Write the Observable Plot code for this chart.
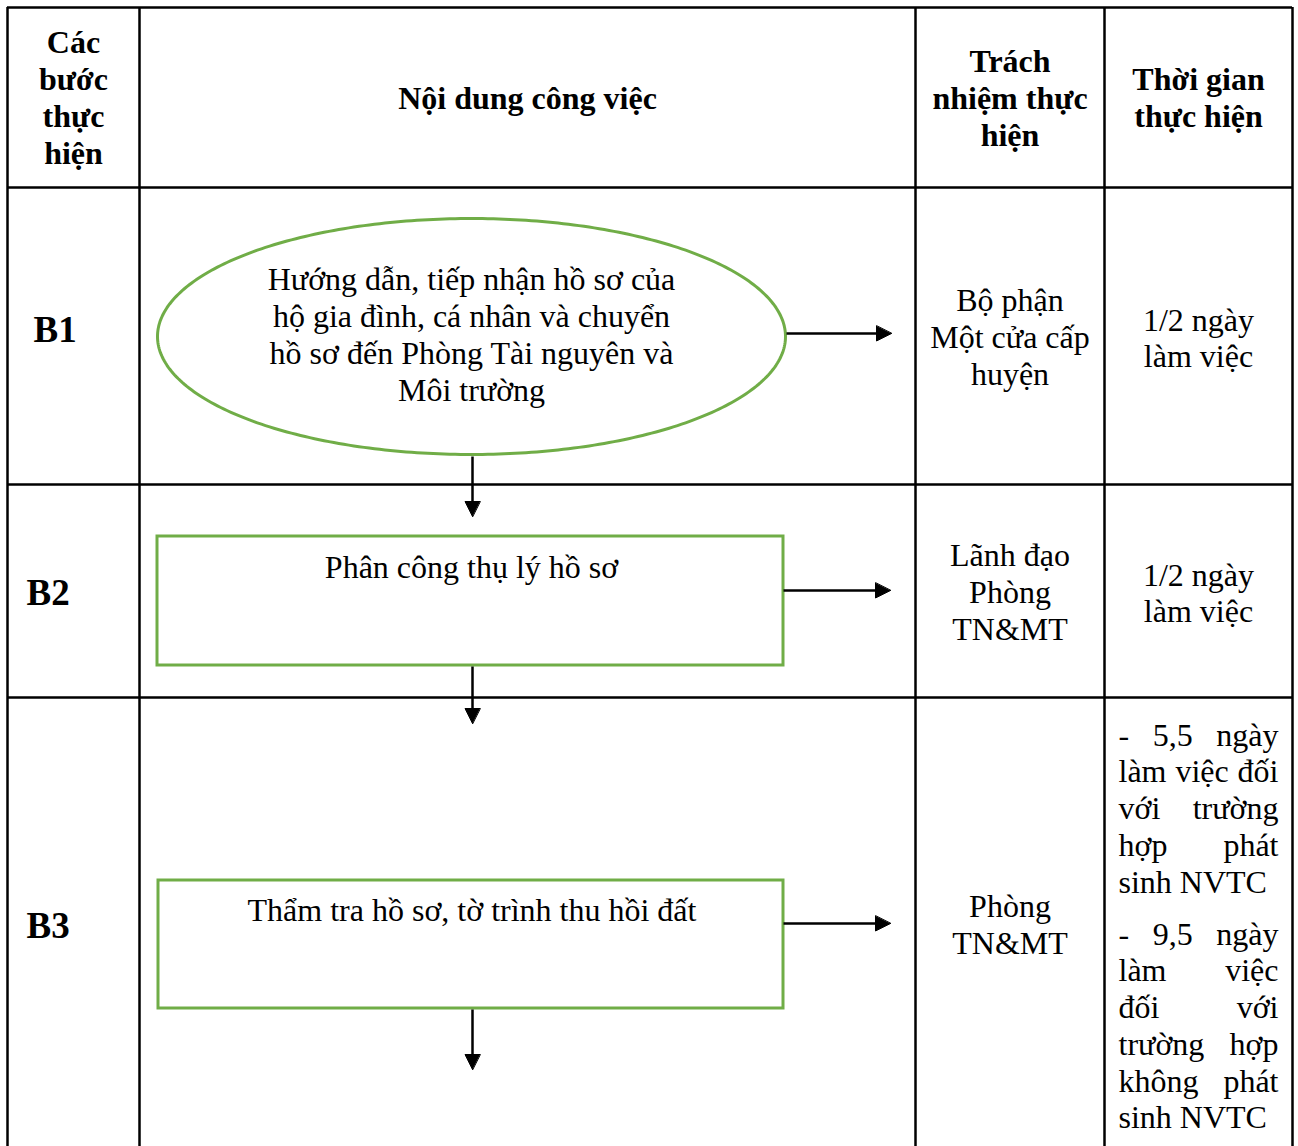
<!DOCTYPE html>
<html>
<head>
<meta charset="utf-8">
<script src="https://cdn.jsdelivr.net/npm/d3@7"></script>
<script src="https://cdn.jsdelivr.net/npm/@observablehq/plot@0.6"></script>
<style>
  html, body { margin: 0; padding: 0; background: #fff; }
  #chart svg { display: block; }
</style>
</head>
<body>
<div id="chart"></div>
<script>
// ---------- content ----------
const headers = [
  ["Các", "bước", "thực", "hiện"],
  ["Nội dung công việc"],
  ["Trách", "nhiệm thực", "hiện"],
  ["Thời gian", "thực hiện"]
];
const steps = ["B1", "B2", "B3"];
const tasks = [
  ["Hướng dẫn, tiếp nhận hồ sơ của", "hộ gia đình, cá nhân và chuyển", "hồ sơ đến Phòng Tài nguyên và", "Môi trường"],
  ["Phân công thụ lý hồ sơ"],
  ["Thẩm tra hồ sơ, tờ trình thu hồi đất"]
];
const responsible = [
  ["Bộ phận", "Một cửa cấp", "huyện"],
  ["Lãnh đạo", "Phòng", "TN&MT"],
  ["Phòng", "TN&MT"]
];
const durations = [
  ["1/2 ngày", "làm việc"],
  ["1/2 ngày", "làm việc"]
];
const durationParagraphs = [
  ["- 5,5 ngày", "làm việc đối", "với trường", "hợp phát", "sinh NVTC"],
  ["- 9,5 ngày", "làm việc", "đối với", "trường hợp", "không phát", "sinh NVTC"]
];

// ---------- layout ----------
const W = 1298, H = 1146;
const colEdges = [7, 139, 915, 1104, 1292];
const rowEdges = [7, 187, 484, 697, 1160];
const headerY = 98;
const lineH = 37;
const stepLabelPos = [[33, 330], [26, 593], [26, 926]];
const respY = [337, 592, 925];
const durY = [338, 593];
const ellipse = {cx: 471, cy: 336, rx: 314, ry: 118};
const rects = [null, {x1: 157, x2: 783, y1: 536, y2: 665}, {x1: 158, x2: 783, y1: 880, y2: 1008}];
const taskTextY = [335, 567, 910];
const arrows = [
  {x1: 472, y1: 456, x2: 472, y2: 516},
  {x1: 472, y1: 666, x2: 472, y2: 723},
  {x1: 472, y1: 1009, x2: 472, y2: 1069},
  {x1: 786, y1: 333, x2: 891, y2: 333},
  {x1: 783, y1: 590, x2: 890, y2: 590},
  {x1: 783, y1: 923, x2: 890, y2: 923}
];
const parStartY = [735, 934];
const parLineH = 36.7;
const parLeft = 1118, parRight = 1278;

const GREEN = "#70AD47";
const FONT = "'Liberation Serif', 'Times New Roman', serif";
const FS = 32;

// ---------- helpers ----------
function stack(lines, cx, cy, lh) {
  const n = lines.length;
  return lines.map((t, i) => ({x: cx, y: cy + (i - (n - 1) / 2) * lh, text: t}));
}
const canvas = document.createElement("canvas");
const ctx = canvas.getContext("2d");
ctx.font = `${FS}px 'Liberation Serif'`;
function justify(lines, y0, lh) {
  const out = [];
  lines.forEach((line, i) => {
    const y = y0 + i * lh;
    const words = line.split(" ");
    const last = i === lines.length - 1;
    if (last || words.length < 2) {
      out.push({x: parLeft, y, text: line});
      return;
    }
    const widths = words.map(w => ctx.measureText(w).width);
    const gap = (parRight - parLeft - d3.sum(widths)) / (words.length - 1);
    let x = parLeft;
    words.forEach((w, k) => { out.push({x, y, text: w}); x += widths[k] + gap; });
  });
  return out;
}

// grid
const vLines = colEdges.map(x => ({x, y1: rowEdges[0], y2: rowEdges[rowEdges.length - 1]}));
const hLines = rowEdges.slice(0, -1).map(y => ({y, x1: colEdges[0], x2: colEdges[colEdges.length - 1]}));

const headerTexts = headers.flatMap((lines, c) =>
  stack(lines, (colEdges[c] + colEdges[c + 1]) / 2, headerY, lineH));
const taskTexts = tasks.flatMap((lines, r) => {
  const cx = r === 0 ? ellipse.cx : (rects[r].x1 + rects[r].x2) / 2 + 1;
  return stack(lines, cx, taskTextY[r], lineH);
});
const respTexts = responsible.flatMap((lines, r) => stack(lines, (colEdges[2] + colEdges[3]) / 2, respY[r], lineH));
const durTexts = durations.flatMap((lines, r) => stack(lines, (colEdges[3] + colEdges[4]) / 2, durY[r], 36));
const parTexts = durationParagraphs.flatMap((lines, p) => justify(lines, parStartY[p], parLineH));
const stepTexts = steps.map((s, i) => ({x: stepLabelPos[i][0], y: stepLabelPos[i][1], text: s}));

const ellipsePts = d3.range(0, 360, 1).map(a => {
  const t = a * Math.PI / 180;
  return {x: ellipse.cx + ellipse.rx * Math.cos(t), y: ellipse.cy + ellipse.ry * Math.sin(t)};
});
const rectData = rects.filter(d => d);

const headLen = 15, headHalf = 7.5;
const heads = arrows.flatMap((a, i) => {
  const dx = a.x2 - a.x1, dy = a.y2 - a.y1, L = Math.hypot(dx, dy);
  const ux = dx / L, uy = dy / L, px = -uy, py = ux;
  const bx = a.x2 - ux * headLen, by = a.y2 - uy * headLen;
  return [
    {id: i, x: a.x2, y: a.y2},
    {id: i, x: bx + px * headHalf, y: by + py * headHalf},
    {id: i, x: bx - px * headHalf, y: by - py * headHalf}
  ];
});
const shafts = arrows.map(a => {
  const dx = a.x2 - a.x1, dy = a.y2 - a.y1, L = Math.hypot(dx, dy);
  return {x1: a.x1, y1: a.y1, x2: a.x2 - dx / L * (headLen - 2), y2: a.y2 - dy / L * (headLen - 2)};
});

const chart = Plot.plot({
  width: W,
  height: H,
  margin: 0,
  x: {domain: [0, W], range: [0, W], axis: null},
  y: {domain: [0, H], range: [0, H], axis: null},
  style: {background: "#fff"},
  marks: [
    Plot.ruleX(vLines, {x: "x", y1: "y1", y2: "y2", stroke: "#000", strokeWidth: 2.5}),
    Plot.ruleY(hLines, {y: "y", x1: "x1", x2: "x2", stroke: "#000", strokeWidth: 2.5}),
    Plot.line(ellipsePts, {x: "x", y: "y", curve: "linear-closed", stroke: GREEN, strokeWidth: 3, fill: "none"}),
    Plot.rect(rectData, {x1: "x1", x2: "x2", y1: "y1", y2: "y2", stroke: GREEN, strokeWidth: 3, fill: "none"}),
    Plot.link(shafts, {x1: "x1", y1: "y1", x2: "x2", y2: "y2", stroke: "#000", strokeWidth: 2.5}),
    Plot.line(heads, {x: "x", y: "y", z: "id", curve: "linear-closed", fill: "#000", stroke: "#000", strokeWidth: 1}),
    Plot.text(headerTexts, {x: "x", y: "y", text: "text", fontSize: FS, fontWeight: "bold", fontFamily: FONT, textAnchor: "middle", lineAnchor: "middle", fill: "#000"}),
    Plot.text(stepTexts, {x: "x", y: "y", text: "text", fontSize: 37, fontWeight: "bold", fontFamily: FONT, textAnchor: "start", lineAnchor: "middle", fill: "#000"}),
    Plot.text(taskTexts, {x: "x", y: "y", text: "text", fontSize: FS, fontFamily: FONT, textAnchor: "middle", lineAnchor: "middle", fill: "#000"}),
    Plot.text(respTexts, {x: "x", y: "y", text: "text", fontSize: FS, fontFamily: FONT, textAnchor: "middle", lineAnchor: "middle", fill: "#000"}),
    Plot.text(durTexts, {x: "x", y: "y", text: "text", fontSize: FS, fontFamily: FONT, textAnchor: "middle", lineAnchor: "middle", fill: "#000"}),
    Plot.text(parTexts, {x: "x", y: "y", text: "text", fontSize: FS, fontFamily: FONT, textAnchor: "start", lineAnchor: "middle", fill: "#000"})
  ]
});
document.getElementById("chart").appendChild(chart);
</script>
</body>
</html>
